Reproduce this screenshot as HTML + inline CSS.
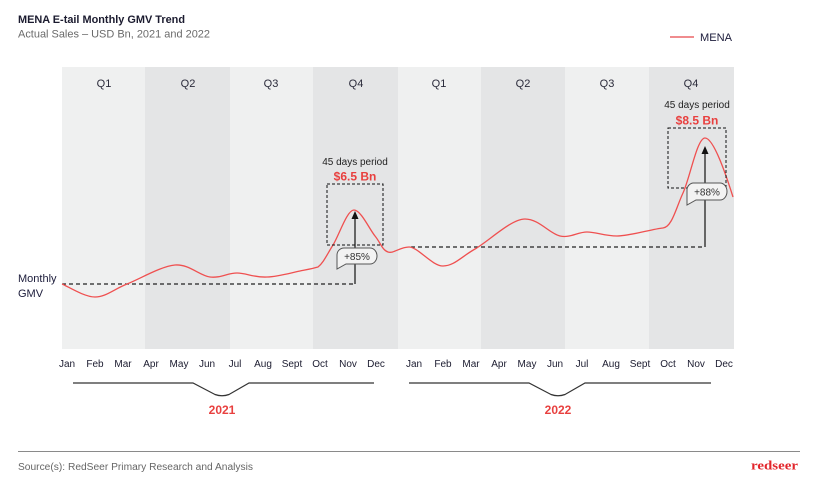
<!DOCTYPE html>
<html>
<head>
<meta charset="utf-8">
<style>
  html,body{margin:0;padding:0;background:#ffffff;}
  body{width:813px;height:477px;overflow:hidden;}
  svg{display:block;}
  text{font-family:"Liberation Sans",sans-serif;}
</style>
</head>
<body>
<svg width="813" height="477" viewBox="0 0 813 477" xmlns="http://www.w3.org/2000/svg">
  <rect x="0" y="0" width="813" height="477" fill="#ffffff"/>

  <!-- Title -->
  <text x="18" y="23" font-size="11" font-weight="bold" fill="#1b1b2f" textLength="167" lengthAdjust="spacingAndGlyphs">MENA E-tail Monthly GMV Trend</text>
  <text x="18" y="37.5" font-size="11" fill="#6a6a6a" textLength="192" lengthAdjust="spacingAndGlyphs">Actual Sales – USD Bn, 2021 and 2022</text>

  <!-- Legend -->
  <line x1="670" y1="37" x2="694" y2="37" stroke="#e8474a" stroke-width="1.2"/>
  <text x="700" y="41" font-size="11" fill="#1b1b3a" textLength="32" lengthAdjust="spacingAndGlyphs">MENA</text>

  <!-- Quarter bands -->
  <rect x="62" y="67" width="83" height="282" fill="#eff0f0"/>
  <rect x="145" y="67" width="85" height="282" fill="#e4e5e6"/>
  <rect x="230" y="67" width="83" height="282" fill="#eff0f0"/>
  <rect x="313" y="67" width="85" height="282" fill="#e4e5e6"/>
  <rect x="398" y="67" width="83" height="282" fill="#eff0f0"/>
  <rect x="481" y="67" width="84" height="282" fill="#e4e5e6"/>
  <rect x="565" y="67" width="84" height="282" fill="#eff0f0"/>
  <rect x="649" y="67" width="85" height="282" fill="#e4e5e6"/>

  <!-- Quarter labels -->
  <g font-size="11" fill="#2a2a3a" text-anchor="middle">
    <text x="104" y="87">Q1</text>
    <text x="188" y="87">Q2</text>
    <text x="271" y="87">Q3</text>
    <text x="356" y="87">Q4</text>
    <text x="439" y="87">Q1</text>
    <text x="523" y="87">Q2</text>
    <text x="607" y="87">Q3</text>
    <text x="691" y="87">Q4</text>
  </g>

  <!-- Dashed baselines -->
  <line x1="62" y1="284" x2="355" y2="284" stroke="#222" stroke-width="1.2" stroke-dasharray="4,3"/>
  <line x1="411" y1="247" x2="705" y2="247" stroke="#222" stroke-width="1.2" stroke-dasharray="4,3"/>

  <!-- Curve -->
  <path fill="none" stroke="#ef5050" stroke-width="1.3" stroke-linejoin="round" d="
    M62,284
    C67.5,286.2 84.2,297 95,297
    C105.8,297 113.7,289.3 127,284
    C140.3,278.7 161.2,266.2 175,265
    C188.8,263.8 199.7,275.7 210,277
    C220.3,278.3 227.5,273 237,273
    C246.5,273 253.7,277.7 267,277
    C277.5,276.7 291.5,272.7 300,271
    C308.5,269.3 313,268.5 318,267
    C323.5,262.7 327,254.5 333,245
    C339,235.5 347,209.8 354,210
    C361,210.2 369.3,229 375,236
    C380.7,243 382.3,250.2 388,252
    C393.7,253.8 400,247 409,247
    C418,247 432,266 443,266
    C454,266 461.3,256.8 475,249
    C488.7,241.2 511,219 525,219
    C539,219 549.7,233.8 560,236
    C570.3,238.2 577.5,232 587,232
    C596.5,232 604,236 617,236
    C630,236 652,229 663,228
    C672,227 676,208 683,193
    C690,178 697,138 705,138
    C714,138 727,178 733,197"/>

  <!-- 2021 annotation -->
  <rect x="327" y="184" width="56" height="61" fill="none" stroke="#111" stroke-width="1" stroke-dasharray="3,2"/>
  <line x1="355" y1="284" x2="355" y2="218" stroke="#111" stroke-width="1.2"/>
  <polygon points="355,211 351.5,219 358.5,219" fill="#111"/>
  <path d="M344,248 H370 A7,8 0 0 1 370,264 H346 L337,269 V255 A7,7 0 0 1 344,248 Z" fill="#f3f3f3" stroke="#555" stroke-width="1"/>
  <text x="357" y="260" font-size="10" fill="#333" text-anchor="middle">+85%</text>
  <text x="355" y="165" font-size="10" fill="#222" text-anchor="middle">45 days period</text>
  <text x="355" y="180.5" font-size="12" font-weight="bold" fill="#e8403f" text-anchor="middle">$6.5 Bn</text>

  <!-- 2022 annotation -->
  <rect x="668" y="128" width="58" height="60" fill="none" stroke="#111" stroke-width="1" stroke-dasharray="3,2"/>
  <line x1="705" y1="247" x2="705" y2="153" stroke="#111" stroke-width="1.2"/>
  <polygon points="705,146 701.5,154 708.5,154" fill="#111"/>
  <path d="M693,183 H720 A7,8.5 0 0 1 720,200 H696 L687,205 V190 A7,7 0 0 1 693,183 Z" fill="#f3f3f3" stroke="#555" stroke-width="1"/>
  <text x="707" y="195.5" font-size="10" fill="#333" text-anchor="middle">+88%</text>
  <text x="697" y="108" font-size="10" fill="#222" text-anchor="middle">45 days period</text>
  <text x="697" y="124.5" font-size="12" font-weight="bold" fill="#e8403f" text-anchor="middle">$8.5 Bn</text>

  <!-- Monthly GMV label -->
  <text x="18" y="282" font-size="11" fill="#1b1b3a">Monthly</text>
  <text x="18" y="297" font-size="11" fill="#1b1b3a">GMV</text>

  <!-- Month labels -->
  <g font-size="10" fill="#1b1b2f" text-anchor="middle">
    <text x="67" y="367">Jan</text>
    <text x="95" y="367">Feb</text>
    <text x="123" y="367">Mar</text>
    <text x="151" y="367">Apr</text>
    <text x="179" y="367">May</text>
    <text x="207" y="367">Jun</text>
    <text x="235" y="367">Jul</text>
    <text x="263" y="367">Aug</text>
    <text x="292" y="367">Sept</text>
    <text x="320" y="367">Oct</text>
    <text x="348" y="367">Nov</text>
    <text x="376" y="367">Dec</text>

    <text x="414" y="367">Jan</text>
    <text x="443" y="367">Feb</text>
    <text x="471" y="367">Mar</text>
    <text x="499" y="367">Apr</text>
    <text x="527" y="367">May</text>
    <text x="555" y="367">Jun</text>
    <text x="582" y="367">Jul</text>
    <text x="611" y="367">Aug</text>
    <text x="640" y="367">Sept</text>
    <text x="668" y="367">Oct</text>
    <text x="696" y="367">Nov</text>
    <text x="724" y="367">Dec</text>
  </g>

  <!-- Braces -->
  <path d="M73,383 H193 L215,394.5 Q222,397 229,394.5 L249,383 H374" fill="none" stroke="#333" stroke-width="1.2"/>
  <path d="M409,383 H529 L551,394.5 Q558,397 565,394.5 L585,383 H711" fill="none" stroke="#333" stroke-width="1.2"/>
  <text x="222" y="414" font-size="12" font-weight="bold" fill="#e8403f" text-anchor="middle">2021</text>
  <text x="558" y="414" font-size="12" font-weight="bold" fill="#e8403f" text-anchor="middle">2022</text>

  <!-- Footer -->
  <line x1="18" y1="451.5" x2="800" y2="451.5" stroke="#8a8a8a" stroke-width="1"/>
  <text x="18" y="470" font-size="10" fill="#666" textLength="235" lengthAdjust="spacingAndGlyphs">Source(s): RedSeer Primary Research and Analysis</text>
  <text x="751" y="469.5" font-size="13" font-weight="bold" fill="#e2252b" style="font-family:'Liberation Serif',serif" textLength="47" lengthAdjust="spacingAndGlyphs">redseer</text>
</svg>
</body>
</html>
